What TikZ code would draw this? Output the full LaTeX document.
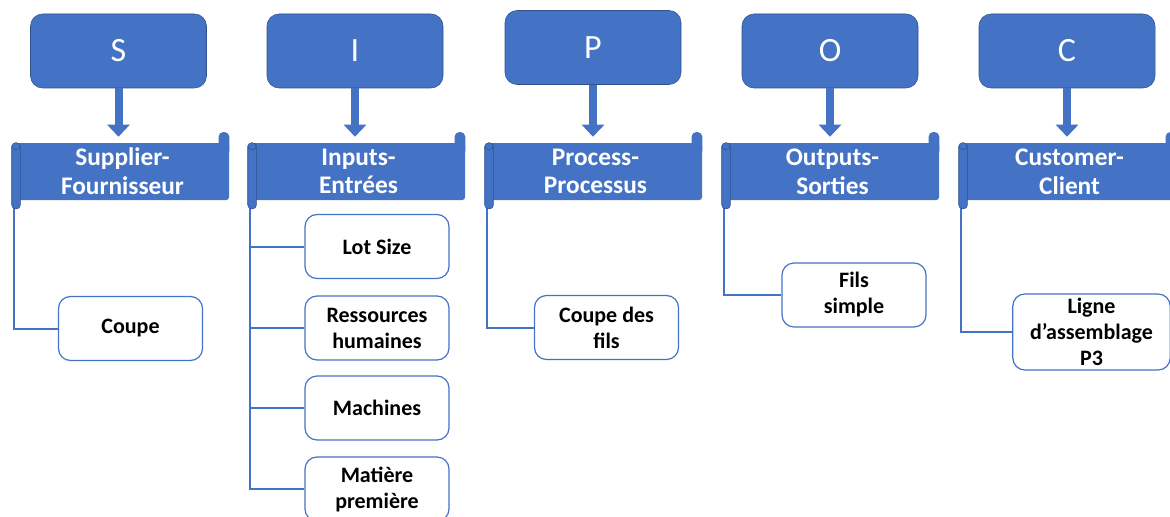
\documentclass[tikz,border=0pt]{standalone}
\usepackage{fontspec}
\setmainfont{Carlito}
\usetikzlibrary{arrows.meta}
\definecolor{sipblue}{HTML}{4472C4}
\definecolor{sipdark}{HTML}{2F528F}
\tikzset{
  letterbox/.style={draw=sipdark, fill=sipblue, rounded corners=9pt, minimum width=132pt,
    minimum height=55.5pt, text=white, font=\fontsize{25.5}{30}\selectfont},
  banner/.style={fill=sipblue, rounded corners=2pt, minimum width=159.75pt, minimum height=42.75pt,
    inner sep=0pt, text=white, align=center, font=\bfseries\fontsize{19}{21.5}\selectfont},
  itembox/.style={draw=sipblue, line width=0.9pt, fill=white, rounded corners=9pt,
    minimum width=108pt, minimum height=48pt, inner sep=2pt, align=center,
    font=\bfseries\fontsize{16.5}{19.5}\selectfont},
  link/.style={draw=sipblue, line width=1.5pt},
  pointer/.style={draw=sipblue, line width=6pt, -{Triangle[width=16.5pt,length=9pt]}, shorten >=4.5pt},
  roll/.style={fill=sipblue, draw=sipdark, line width=0.4pt, rounded corners=3pt}
}
\begin{document}
\begin{tikzpicture}[x=0.75pt,y=-0.75pt]
  \useasboundingbox (0,0) rectangle (1170,517);

  % top letters
  \node[letterbox] (s) at (118.5,51) {S};
  \node[letterbox] (i) at (355,51) {I};
  \node[letterbox] (p) at (593,47.5) {P};
  \node[letterbox] (o) at (830,51) {O};
  \node[letterbox] (c) at (1067,51) {C};

  % banners
  \node[banner] (sb) at (122.5,171.5) {Supplier-\\Fournisseur};
  \node[banner] (ib) at (358.5,171.5) {Inputs-\\Entrées};
  \node[banner] (pb) at (595.5,171.5) {Process-\\Processus};
  \node[banner] (ob) at (832.5,171.5) {Outputs-\\Sorties};
  \node[banner] (cb) at (1069.5,171.5) {Customer-\\Client};

  \draw[pointer] (s.south) -- (s.south |- sb.north);
  \draw[pointer] (i.south) -- (i.south |- ib.north);
  \draw[pointer] (p.south) -- (p.south |- pb.north);
  \draw[pointer] (o.south) -- (o.south |- ob.north);
  \draw[pointer] (c.south) -- (c.south |- cb.north);

  % items
  \node[itembox] (coupe) at (130.5,328.5) {Coupe};
  \node[itembox] (lot) at (377,246.5) {Lot Size};
  \node[itembox] (res) at (377,328) {Ressources\\humaines};
  \node[itembox] (mach) at (377,408) {Machines};
  \node[itembox] (mat) at (377,489) {Matière\\première};
  \node[itembox] (fils) at (606.5,327.5) {Coupe des\\fils};
  \node[itembox] (simple) at (854,295) {Fils\\simple};
  \node[itembox, minimum width=118pt, minimum height=57pt] (ligne) at (1091.5,332)
    {Ligne\\d’assemblage\\P3};

  \draw[link] ([xshift=-1.5pt]sb.south west) |- (coupe.west);
  \draw[link] ([xshift=-1.5pt]ib.south west) |- (lot.west);
  \draw[link] ([xshift=-1.5pt]ib.south west) |- (res.west);
  \draw[link] ([xshift=-1.5pt]ib.south west) |- (mach.west);
  \draw[link] ([xshift=-1.5pt]ib.south west) |- (mat.west);
  \draw[link] ([xshift=-1.5pt]pb.south west) |- (fils.west);
  \draw[link] ([xshift=-1.5pt]ob.south west) |- (simple.west);
  \draw[link] ([xshift=-1.5pt]cb.south west) |- (ligne.west);

  % scroll rolls
  \foreach \b in {sb,ib,pb,ob,cb} {
    \draw[roll] ([xshift=-3pt]\b.north west) rectangle ([xshift=3.5pt,yshift=-6.5pt]\b.south west);
    \draw[sipdark, line width=0.4pt] ([xshift=-3pt,yshift=-2pt]\b.north west) arc (180:360:3.25pt);
    \fill[sipblue, rounded corners=3.5pt] ([xshift=-8pt,yshift=8pt]\b.north east) rectangle ([yshift=-10pt]\b.north east);
  }
\end{tikzpicture}
\end{document}
